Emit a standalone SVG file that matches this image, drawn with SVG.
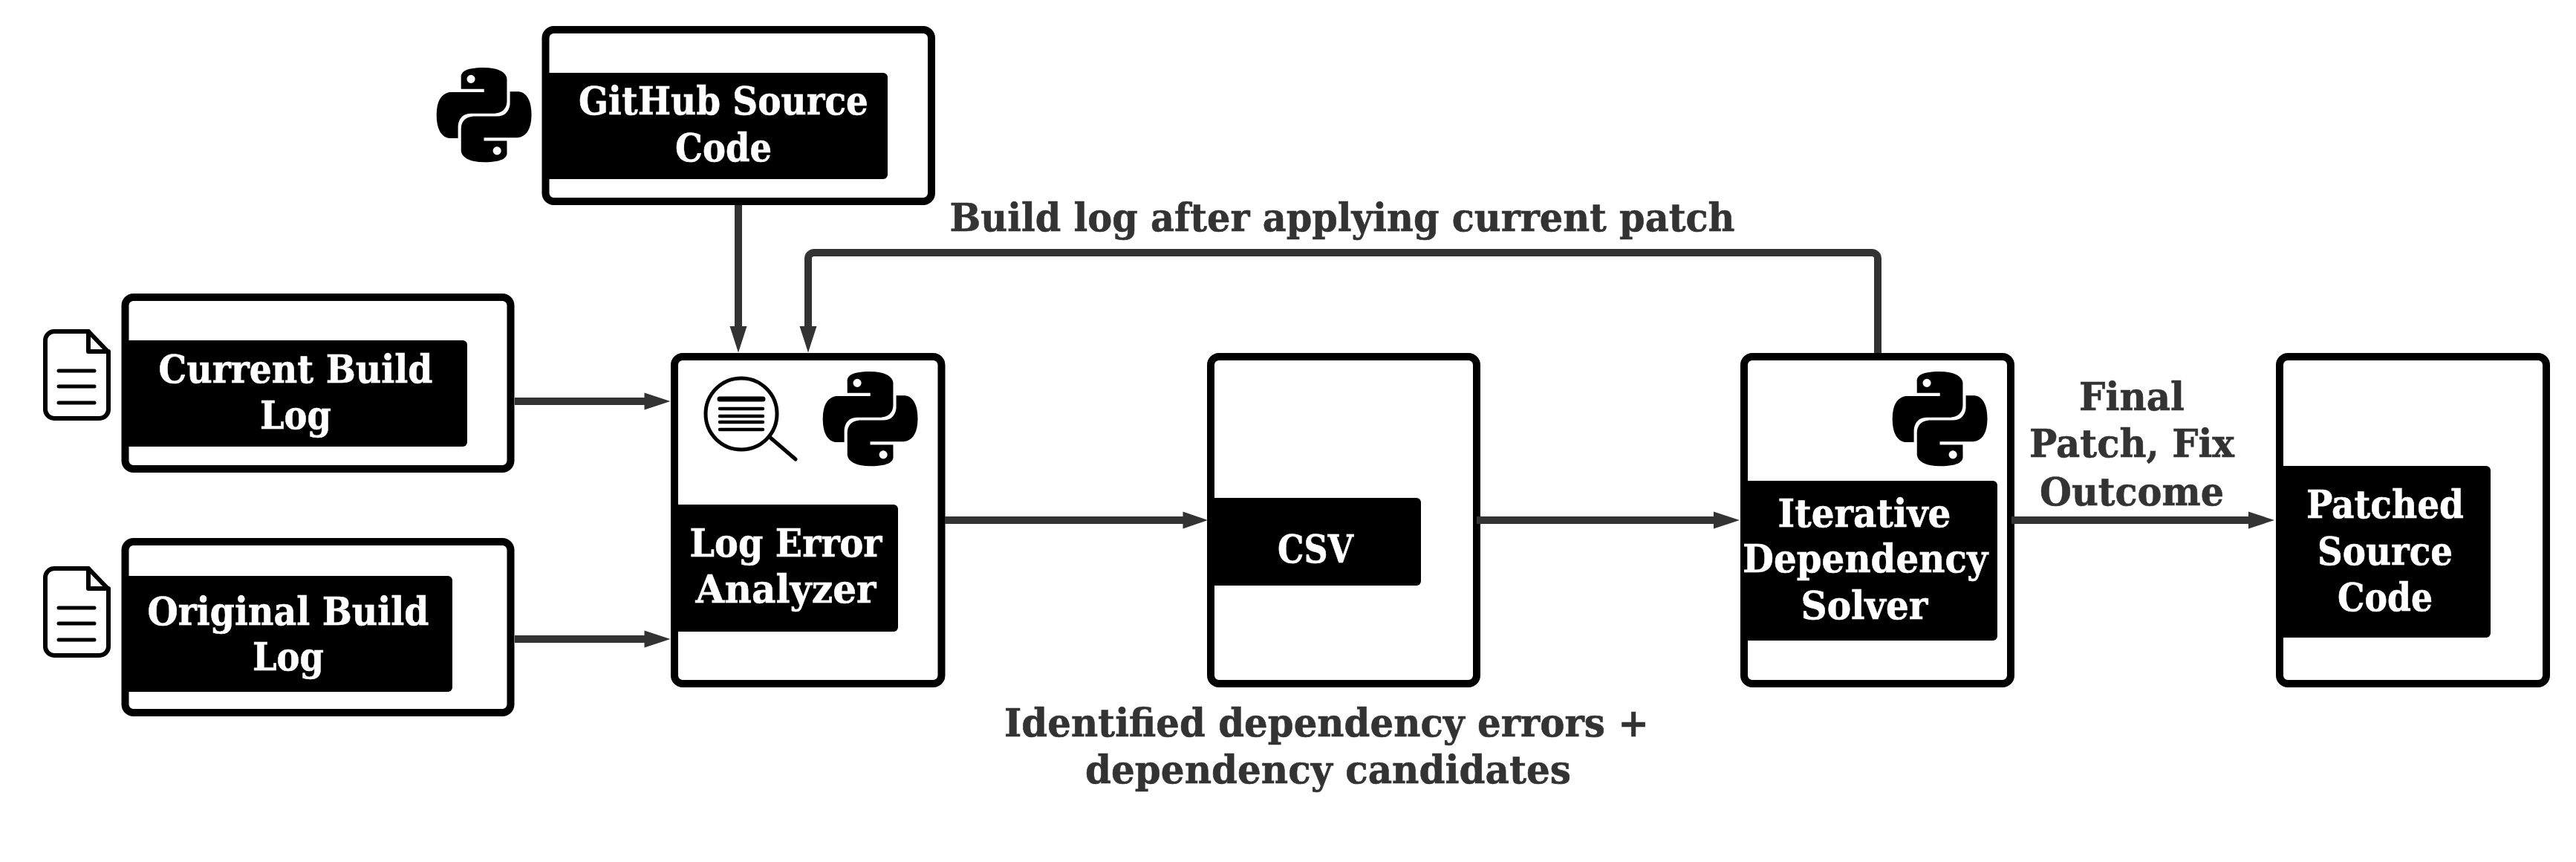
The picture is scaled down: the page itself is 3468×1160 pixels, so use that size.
<svg xmlns="http://www.w3.org/2000/svg" width="3468" height="1160" viewBox="0 0 3468 1160">
<style>
.box{fill:#fff;stroke:#000;stroke-width:10}
.lab{fill:#000}
text{font-family:"DejaVu Serif","Liberation Serif",serif;font-weight:700;font-size:53px;text-anchor:middle;stroke-width:.6}
.w{fill:#fff;stroke:#fff}
.d{fill:#333;stroke:#333}
.c{fill:none;stroke:#333;stroke-width:10;stroke-linejoin:round}
.h{fill:#333}
.ic{fill:none;stroke:#000;stroke-linecap:round;stroke-linejoin:round}
</style>
<defs>
<path id="py" fill="#000" fill-rule="evenodd" transform="scale(5.3)" d="M14.25.18l.9.2.73.26.59.3.45.32.34.34.25.34.16.33.1.3.04.26.02.2-.01.13V8.5l-.05.63-.13.55-.21.46-.26.38-.3.31-.33.25-.35.19-.35.14-.33.1-.3.07-.26.04-.21.02H8.77l-.69.05-.59.14-.5.22-.41.27-.33.32-.27.35-.2.36-.15.37-.1.35-.07.32-.04.27-.02.21v3.06H3.17l-.21-.03-.28-.07-.32-.12-.35-.18-.36-.26-.36-.36-.35-.46-.32-.59-.28-.73-.21-.88-.14-1.05-.05-1.23.06-1.22.16-1.04.24-.87.32-.71.36-.57.4-.44.42-.33.42-.24.4-.16.36-.1.32-.05.24-.01h.16l.06.01h8.16v-.83H6.18l-.01-2.75-.02-.37.05-.34.11-.31.17-.28.25-.26.31-.23.38-.2.44-.18.51-.15.58-.12.64-.1.71-.06.77-.04.84-.02 1.27.05zm-6.3 1.98l-.23.33-.08.41.08.41.23.34.33.22.41.09.41-.09.33-.22.23-.34.08-.41-.08-.41-.23-.33-.33-.22-.41-.09-.41.09zm13.09 3.95l.28.06.32.12.35.18.36.27.36.35.35.47.32.59.28.73.21.88.14 1.04.05 1.23-.06 1.23-.16 1.04-.24.86-.32.71-.36.57-.4.45-.42.33-.42.24-.4.16-.36.09-.32.05-.24.02-.16-.01h-8.22v.82h5.84l.01 2.76.02.36-.05.34-.11.31-.17.29-.25.25-.31.24-.38.2-.44.17-.51.15-.58.13-.64.09-.71.07-.77.04-.84.01-1.27-.04-1.07-.14-.9-.2-.73-.25-.59-.3-.45-.33-.34-.34-.25-.34-.16-.33-.1-.3-.04-.25-.02-.2.01-.13v-5.34l.05-.64.13-.54.21-.46.26-.38.3-.32.33-.24.35-.2.35-.14.33-.1.3-.06.26-.04.21-.02.13-.01h5.84l.69-.05.59-.14.5-.21.41-.28.33-.32.27-.35.2-.36.15-.36.1-.35.07-.32.04-.28.02-.21V6.07h2.09l.14.01zm-6.47 14.25l-.23.33-.08.41.08.41.23.33.33.23.41.08.41-.08.33-.23.23-.33.08-.41-.08-.41-.23-.33-.33-.23-.41-.08-.41.08z"/>
<g id="doc">
<path class="ic" stroke-width="6" d="M61 458a12 12 0 0 1 12-12h46l27 28v77a12 12 0 0 1-12 12H73a12 12 0 0 1-12-12z"/>
<path class="ic" stroke-width="6" d="M119 446v27h27"/>
<path class="ic" stroke-width="5" d="M79 499h48M79 520h48M79 542h48"/>
</g>
</defs>
<rect width="3468" height="1160" fill="#fff"/>

<g id="github">
<rect class="box" x="734.500" y="40" width="519.500" height="231" rx="11"/>
<path class="lab" d="M730 98H1189a6 6 0 0 1 6 6V235a6 6 0 0 1-6 6H730Z"/>
<text class="w" x="974" y="154" textLength="390" lengthAdjust="spacingAndGlyphs">GitHub Source</text>
<text class="w" x="974" y="217" textLength="130" lengthAdjust="spacingAndGlyphs">Code</text>
<use href="#py" x="588" y="91"/>
</g>

<g id="current-log">
<rect class="box" x="168.500" y="400" width="519" height="231" rx="11"/>
<path class="lab" d="M164 458H623a6 6 0 0 1 6 6V595a6 6 0 0 1-6 6H164Z"/>
<text class="w" x="398" y="515" textLength="369" lengthAdjust="spacingAndGlyphs">Current Build</text>
<text class="w" x="398" y="577" textLength="96" lengthAdjust="spacingAndGlyphs">Log</text>
<use href="#doc"/>
</g>

<g id="original-log">
<rect class="box" x="168.500" y="729" width="519" height="230" rx="11"/>
<path class="lab" d="M164 775H603a6 6 0 0 1 6 6V925a6 6 0 0 1-6 6H164Z"/>
<text class="w" x="388" y="841" textLength="379" lengthAdjust="spacingAndGlyphs">Original Build</text>
<text class="w" x="388" y="902" textLength="96" lengthAdjust="spacingAndGlyphs">Log</text>
<use href="#doc" y="319"/>
</g>

<g id="log-analyzer">
<rect class="box" x="908" y="480" width="359.500" height="440" rx="11"/>
<path class="lab" d="M904 679H1203a6 6 0 0 1 6 6V844a6 6 0 0 1-6 6H904Z"/>
<text class="w" x="1058" y="749" textLength="259" lengthAdjust="spacingAndGlyphs">Log Error</text>
<text class="w" x="1058" y="811" textLength="243" lengthAdjust="spacingAndGlyphs">Analyzer</text>
<circle cx="998" cy="557" r="48" fill="none" stroke="#000" stroke-width="5"/>
<path class="ic" stroke-width="7" d="M969 537H1027"/>
<path class="ic" stroke-width="4.500" d="M969 550H1027M969 560H1027M969 568H1027M969 578H1027"/>
<path class="ic" stroke-width="5" d="M1036 588L1071 618"/>
<use href="#py" x="1108" y="500"/>
</g>

<g id="csv">
<rect class="box" x="1630" y="480" width="358" height="440" rx="11"/>
<path class="lab" d="M1626 670H1907a6 6 0 0 1 6 6V782a6 6 0 0 1-6 6H1626Z"/>
<text class="w" x="1771" y="757" textLength="102" lengthAdjust="spacingAndGlyphs">CSV</text>
</g>

<g id="solver">
<rect class="box" x="2348" y="480" width="359" height="440" rx="11"/>
<path class="lab" d="M2344 647H2683a6 6 0 0 1 6 6V856a6 6 0 0 1-6 6H2344Z"/>
<text class="w" x="2510" y="709" textLength="233" lengthAdjust="spacingAndGlyphs">Iterative</text>
<text class="w" x="2511" y="770" textLength="330" lengthAdjust="spacingAndGlyphs">Dependency</text>
<text class="w" x="2510" y="833" textLength="171" lengthAdjust="spacingAndGlyphs">Solver</text>
<use href="#py" x="2548" y="500"/>
</g>

<g id="patched">
<rect class="box" x="3069" y="480" width="359" height="440" rx="11"/>
<path class="lab" d="M3065 627H3347a6 6 0 0 1 6 6V852a6 6 0 0 1-6 6H3065Z"/>
<text class="w" x="3211" y="697" textLength="212" lengthAdjust="spacingAndGlyphs">Patched</text>
<text class="w" x="3211" y="760" textLength="182" lengthAdjust="spacingAndGlyphs">Source</text>
<text class="w" x="3211" y="822" textLength="128" lengthAdjust="spacingAndGlyphs">Code</text>
</g>

<g id="connectors">
<path class="c" d="M994 276V441"/><path class="h" d="M982.500 439H1005.500L994 474.500Z"/>
<path class="c" d="M2528 475V348a8 8 0 0 0-8-8H1096a8 8 0 0 0-8 8V441"/><path class="h" d="M1076.500 439H1099.500L1088 474.500Z"/>
<path class="c" d="M693 540H870"/><path class="h" d="M867.500 528.500V551.500L902.500 540Z"/>
<path class="c" d="M693 860H870"/><path class="h" d="M867.500 848.500V871.500L902.500 860Z"/>
<path class="c" d="M1272 700H1595"/><path class="h" d="M1592.500 688.500V711.500L1626 700Z"/>
<path class="c" d="M1988 700H2309"/><path class="h" d="M2307 688.500V711.500L2342 700Z"/>
<path class="c" d="M2708 700H3030"/><path class="h" d="M3027 688.500V711.500L3062 700Z"/>
</g>

<g id="labels">
<text class="d" x="1807" y="311" textLength="1057" lengthAdjust="spacingAndGlyphs">Build log after applying current patch</text>
<text class="d" x="1786" y="991" textLength="868" lengthAdjust="spacingAndGlyphs">Identified dependency errors +</text>
<text class="d" x="1788" y="1054" textLength="654" lengthAdjust="spacingAndGlyphs">dependency candidates</text>
<text class="d" x="2870" y="552" textLength="142" lengthAdjust="spacingAndGlyphs">Final</text>
<text class="d" x="2870" y="615" textLength="276" lengthAdjust="spacingAndGlyphs">Patch, Fix</text>
<text class="d" x="2870" y="680" textLength="248" lengthAdjust="spacingAndGlyphs">Outcome</text>
</g>
</svg>
